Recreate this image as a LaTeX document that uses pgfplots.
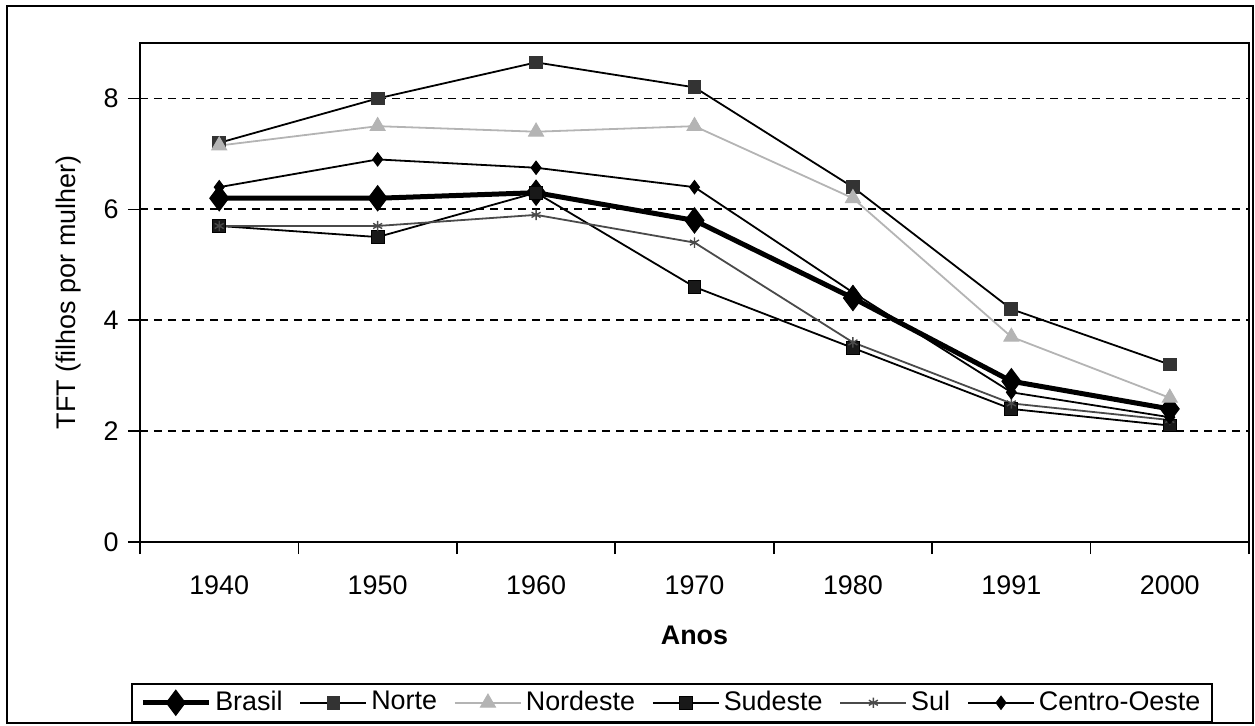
\documentclass[border=0pt]{standalone}
\usepackage{fontspec}
\setmainfont{Liberation Sans}
\usepackage{pgfplots}
\pgfplotsset{compat=1.18}
\definecolor{norteg}{HTML}{333333}
\definecolor{nordg}{HTML}{B4B4B4}
\definecolor{sulg}{HTML}{4A4A4A}
\begin{document}
\fontsize{13.5}{16}\selectfont
\begin{tikzpicture}
\useasboundingbox (-70bp,-92bp) rectangle (557.5bp,271bp);
\draw[line width=1bp] (-66.5bp,-90.5bp) rectangle (556.5bp,268bp);
\begin{axis}[
  at={(0,0)}, anchor=south west,
  scale only axis, width=554.5bp, height=249.5bp,
  xmin=-0.5, xmax=6.5, ymin=0, ymax=9,
  axis line style={line width=1bp},
  xtick={-0.5,0.5,...,6.5}, xticklabels={},
  extra x ticks={0,1,2,3,4,5,6},
  extra x tick labels={1940,1950,1960,1970,1980,1991,2000},
  extra x tick style={major tick length=0pt, grid=none},
  ytick={0,2,4,6,8},
  xtick pos=left, ytick pos=left,
  tick align=outside, major tick length=6bp,
  tick style={line width=0.8bp, black},
  ymajorgrids,
  grid style={black, line width=0.9bp, dash pattern=on 4bp off 3bp},
  /pgf/number format/assume math mode=true,
  xticklabel style={anchor=center, yshift=-21.5bp},
  yticklabel style={anchor=east},
  xlabel={\textbf{Anos}},
  xlabel style={at={(axis description cs:0.5,-0.188)}, anchor=center},
  ylabel={TFT (filhos por mulher)},
  ylabel style={at={(axis description cs:-0.0645,0.5)}, anchor=center},
  legend columns=-1,
  legend style={at={(0.48,-0.2826)}, anchor=north, draw=black, line width=1bp,
    inner xsep=4bp, inner ysep=1.5bp,
    /tikz/every even column/.append style={column sep=6.5bp}},
  legend image code/.code={\draw[mark repeat=2,mark phase=2] plot coordinates {(0bp,0bp) (16.5bp,0bp) (33bp,0bp)};},
]
\addplot[black, line width=2.5bp, mark=diamond*, mark size=6.3bp, mark options={solid, fill=black, line width=0.5bp}]
  coordinates {(0,6.2) (1,6.2) (2,6.3) (3,5.8) (4,4.4) (5,2.9) (6,2.4)};
\addlegendentry{Brasil}
\addplot[black, line width=0.9bp, mark=square*, mark size=3.2bp, mark options={solid, fill=norteg, draw=norteg, line width=0.5bp}]
  coordinates {(0,7.2) (1,8.0) (2,8.65) (3,8.2) (4,6.4) (5,4.2) (6,3.2)};
\addlegendentry{Norte}
\addplot[nordg, line width=0.9bp, mark=triangle*, mark size=4.3bp, mark options={solid, fill=nordg, draw=nordg, line width=0.5bp}]
  coordinates {(0,7.15) (1,7.5) (2,7.4) (3,7.5) (4,6.2) (5,3.7) (6,2.6)};
\addlegendentry{Nordeste}
\addplot[black, line width=0.9bp, mark=square*, mark size=3.2bp, mark options={solid, fill=black!90, line width=0.5bp}]
  coordinates {(0,5.7) (1,5.5) (2,6.3) (3,4.6) (4,3.5) (5,2.4) (6,2.1)};
\addlegendentry{Sudeste}
\addplot[sulg, line width=0.9bp, mark=asterisk, mark size=2.6bp, mark options={solid, draw=sulg, line width=0.7bp}]
  coordinates {(0,5.7) (1,5.7) (2,5.9) (3,5.4) (4,3.6) (5,2.5) (6,2.2)};
\addlegendentry{Sul}
\addplot[black, line width=0.9bp, mark=diamond*, mark size=3.3bp, mark options={solid, fill=black, line width=0.5bp}]
  coordinates {(0,6.4) (1,6.9) (2,6.75) (3,6.4) (4,4.5) (5,2.7) (6,2.25)};
\addlegendentry{Centro-Oeste}
\end{axis}
\end{tikzpicture}
\end{document}
